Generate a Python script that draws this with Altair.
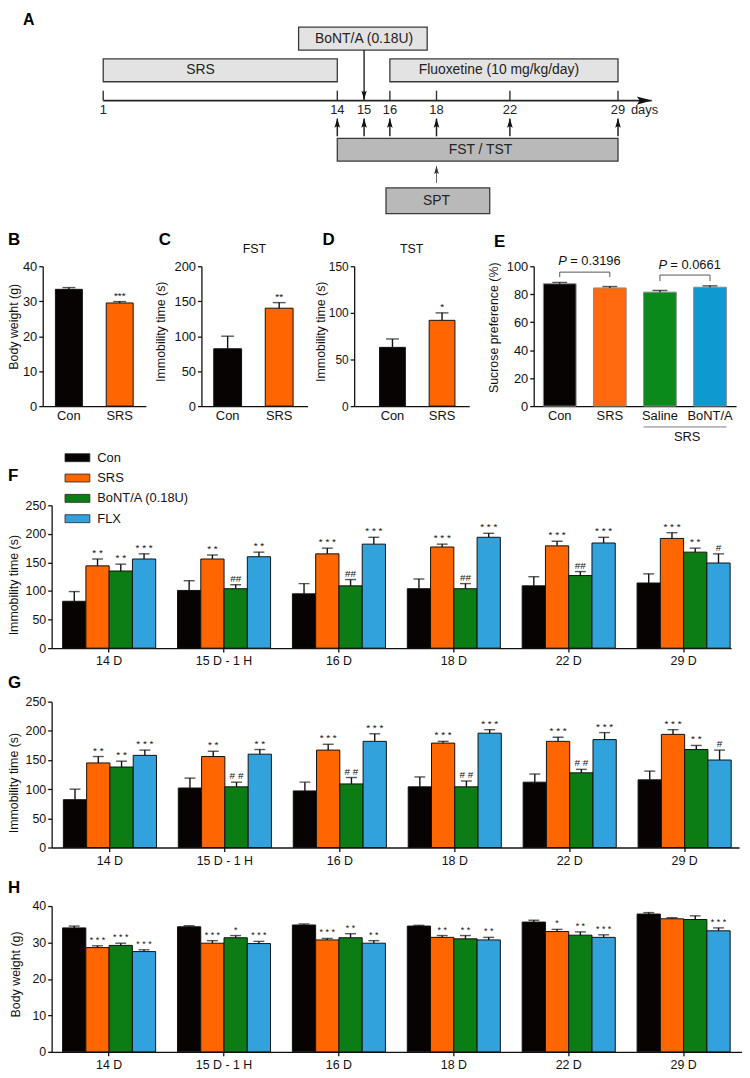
import altair as alt
import pandas as pd

FONT = "Liberation Sans"

# ---------------- data ----------------
# Panel A: experimental timeline (days)
timeline_days = [1, 14, 15, 16, 18, 22, 29]
test_days = [14, 15, 16, 18, 22, 29]
bont_day = [15]
spt_day = [18]
box_labels = ["BoNT/A (0.18U)", "SRS", "Fluoxetine (10 mg/kg/day)", "FST / TST", "SPT"]
box_start = [11.85, 1, 16, 14, 15.85]
box_end = [17.6, 14, 29, 29, 20.9]
box_text_day = [15, 6.4, 21.4, 20.4, 18]
box_lane = ["inject", "treat", "treat", "test", "spt"]

# Panel B: body weight
b_groups = ["Con", "SRS"]
b_mean = [33.4, 29.5]
b_sem = [0.5, 0.4]
b_sig = ["", "***"]
# Panel C: FST immobility
c_mean = [82, 140]
c_sem = [18, 8]
c_sig = ["", "**"]
# Panel D: TST immobility
d_mean = [63, 92]
d_sem = [9, 8]
d_sig = ["", "*"]
# Panel E: sucrose preference
e_groups = ["Con", "SRS", "Saline", "BoNT/A"]
e_mean = [87.5, 84.5, 81.5, 85.0]
e_sem = [1.0, 1.0, 1.2, 1.0]
e_pair_left = ["Con", "Saline"]
e_pair_right = ["SRS", "BoNT/A"]
e_p_text = ["= 0.3196", "= 0.0661"]
e_bracket_top = [95.8, 93.7]
e_bracket_leg = [92.3, 89.4]
e_p_y = [103.5, 100.7]

# Panels F, G, H
days = ["14 D", "15 D - 1 H", "16 D", "18 D", "22 D", "29 D"]
groups = ["Con", "SRS", "BoNT/A (0.18U)", "FLX"]

f_mean = [
    [82, 101, 95, 104, 109, 114],
    [144, 156, 165, 177, 179, 192],
    [135, 104, 109, 104, 127, 168],
    [156, 160, 182, 194, 184, 149],
]
f_sem = [
    [17, 17, 18, 17, 16, 16],
    [12, 7, 10, 5, 8, 10],
    [12, 7, 11, 9, 7, 7],
    [9, 8, 12, 7, 10, 16],
]
f_sig = [
    ["", "", "", "", "", ""],
    ["* *", "* *", "* * *", "* * *", "* * *", "* * *"],
    ["* *", "##", "##", "##", "##", "* *"],
    ["* * *", "* *", "* * *", "* * *", "* * *", "#"],
]

g_mean = [
    [82, 102, 97, 104, 112, 116],
    [145, 156, 167, 179, 182, 194],
    [138, 104, 109, 104, 128, 168],
    [158, 160, 182, 196, 185, 150],
]
g_sem = [
    [18, 17, 15, 17, 14, 15],
    [11, 9, 10, 3, 7, 8],
    [10, 8, 11, 10, 6, 7],
    [9, 8, 13, 6, 12, 17],
]
g_sig = [
    ["", "", "", "", "", ""],
    ["* *", "* *", "* * *", "* * *", "* * *", "* * *"],
    ["* *", "# #", "# #", "# #", "# #", "* *"],
    ["* * *", "* *", "* * *", "* * *", "* * *", "#"],
]

h_mean = [
    [34.0, 34.3, 34.8, 34.5, 35.6, 37.8],
    [28.6, 29.8, 30.7, 31.4, 33.0, 36.5],
    [29.2, 31.3, 31.3, 31.0, 32.0, 36.3],
    [27.5, 29.7, 29.8, 30.7, 31.4, 33.2],
]
h_sem = [
    [0.5, 0.3, 0.3, 0.2, 0.5, 0.4],
    [0.5, 0.7, 0.4, 0.5, 0.6, 0.3],
    [0.6, 0.6, 1.1, 0.9, 0.9, 1.0],
    [0.5, 0.6, 0.7, 0.7, 0.7, 0.8],
]
h_sig = [
    ["", "", "", "", "", ""],
    ["* * *", "* * *", "* * *", "* *", "*", ""],
    ["* * *", "*", "* *", "* *", "* *", ""],
    ["* * *", "* * *", "* *", "* *", "* * *", "* * *"],
]

# ---------------- styles / layout ----------------
GROUP_COLORS = ["#080303", "#ff6600", "#0b7d14", "#31a2dc"]
E_COLORS = ["#080303", "#ff6a10", "#0a8a1a", "#0e9ad0"]
INK = "#111111"

A_W, A_H = 700, 207
LANES = {"inject": (15, 38), "treat": (47, 70), "test": (127, 150), "spt": (177, 203)}
LANE_FILL = {"inject": "#e3e3e3", "treat": "#e3e3e3", "test": "#b9b9b9", "spt": "#b9b9b9"}
AXIS_Y, TICK_TOP, DAYLABEL_Y = 89, 79, 99
UP_TIP, UP_BOTTOM = 107, 125
BONT_FROM, BONT_TIP = 38, 88
SPT_TIP, SPT_BOTTOM = 155, 172
AXIS_END_DAY = 31.18

ARROW_RIGHT = "M0,0 L-2,-0.55 L-1.6,0 L-2,0.55 Z"
ARROW_UP = "M0,0 L0.6,2 L0,1.6 L-0.6,2 Z"
ARROW_DOWN = "M0,0 L0.6,-2 L0,-1.6 L-0.6,-2 Z"
RECT_PATH = "M-1.5,-0.48 H1.5 V0.48 H-1.5 Z"


def spacer(w, h):
    return alt.Chart(pd.DataFrame({"s": [0]})).mark_point(opacity=0).encode(
        x=alt.value(0), y=alt.value(0)
    ).properties(width=w, height=h)


def letter(t, x, y, size=17, baseline="alphabetic", weight="bold"):
    return alt.Chart(pd.DataFrame({"t": [t]})).mark_text(
        font=FONT, fontSize=size, fontWeight=weight, align="left", baseline=baseline, color="#000"
    ).encode(x=alt.value(x), y=alt.value(y), text="t:N")


# ---------------- Panel A ----------------
xa = alt.Scale(domain=timeline_days, range=[61, 297, 324, 350, 397, 471, 580])
ya = alt.Scale(domain=[0, A_H], reverse=True, zero=False, nice=False)


def XA(f):
    return alt.X(f, type="quantitative", scale=xa, axis=None)


def YA(f):
    return alt.Y(f, type="quantitative", scale=ya, axis=None)


boxes = pd.DataFrame({
    "label": box_labels, "start": box_start, "end": box_end, "tday": box_text_day,
    "top": [LANES[l][0] for l in box_lane], "bottom": [LANES[l][1] for l in box_lane],
    "fill": [LANE_FILL[l] for l in box_lane],
})
boxes["ymid"] = (boxes["top"] + boxes["bottom"]) / 2

a_rect = alt.Chart(boxes).mark_rect(stroke="#3a3a3a", strokeWidth=1.3).encode(
    x=XA("start"), x2="end:Q", y=YA("top"), y2="bottom:Q", fill=alt.Fill("fill:N", scale=None))
a_boxtext = alt.Chart(boxes).mark_text(font=FONT, fontSize=14, color="#222").encode(
    x=XA("tday"), y=YA("ymid"), text="label:N")

axis_df = pd.DataFrame({"a": [timeline_days[0]], "b": [AXIS_END_DAY], "y": [AXIS_Y]})
a_axis = alt.Chart(axis_df).mark_rule(strokeWidth=1.8, color="#222").encode(
    x=XA("a"), x2="b:Q", y=YA("y"))
a_head = alt.Chart(axis_df).mark_point(shape=ARROW_RIGHT, size=225, filled=True, opacity=1, color="#111").encode(
    x=XA("b"), y=YA("y"))

ticks_df = pd.DataFrame({"day": timeline_days, "y1": TICK_TOP, "y2": AXIS_Y, "yl": DAYLABEL_Y})
a_ticks = alt.Chart(ticks_df).mark_rule(strokeWidth=1.4, color="#333").encode(
    x=XA("day"), y=YA("y1"), y2="y2:Q")
a_daylab = alt.Chart(ticks_df).mark_text(font=FONT, fontSize=13, color="#222", baseline="middle").encode(
    x=XA("day"), y=YA("yl"), text="day:N")
a_days = alt.Chart(pd.DataFrame({"day": [timeline_days[-1]], "yl": [DAYLABEL_Y], "t": ["days"]})).mark_text(
    font=FONT, fontSize=13, color="#222", align="left", baseline="middle", dx=13).encode(
    x=XA("day"), y=YA("yl"), text="t:N")

bont_df = pd.DataFrame({"day": bont_day, "y1": BONT_FROM, "y2": BONT_TIP})
a_bont = alt.Chart(bont_df).mark_rule(strokeWidth=1.4, color="#222").encode(x=XA("day"), y=YA("y1"), y2="y2:Q")
a_bonthead = alt.Chart(bont_df).mark_point(shape=ARROW_DOWN, size=81, filled=True, opacity=1, color="#111").encode(
    x=XA("day"), y=YA("y2"))

up_df = pd.DataFrame({"day": test_days, "y1": UP_BOTTOM, "y2": UP_TIP})
a_up = alt.Chart(up_df).mark_rule(strokeWidth=1.5, color="#222").encode(x=XA("day"), y=YA("y1"), y2="y2:Q")
a_uphead = alt.Chart(up_df).mark_point(shape=ARROW_UP, size=90, filled=True, opacity=1, color="#111").encode(
    x=XA("day"), y=YA("y2"))

spt_df = pd.DataFrame({"day": spt_day, "y1": SPT_BOTTOM, "y2": SPT_TIP})
a_spt = alt.Chart(spt_df).mark_rule(strokeWidth=1, color="#666").encode(x=XA("day"), y=YA("y1"), y2="y2:Q")
a_spthead = alt.Chart(spt_df).mark_point(shape=ARROW_UP, size=64, filled=True, opacity=1, color="#333").encode(
    x=XA("day"), y=YA("y2"))

panel_a = alt.layer(
    a_rect, a_boxtext, a_axis, a_head, a_ticks, a_daylab, a_days,
    a_bont, a_bonthead, a_up, a_uphead, a_spt, a_spthead,
    letter("A", -20, 0, size=16, baseline="top"),
).properties(width=A_W, height=A_H)


# ---------------- Panels B-E ----------------
ROW_H = 141


def small_panel(cats, means, sems, sigs, colors, ymax, yticks, width, pi, po, align,
                ytitle, title_x, title_dy, let, let_x, let_y, stroke, stroke_w,
                star_size=10, cap=13, top_label=None, ylabel_size=13):
    df = pd.DataFrame({"cat": cats, "mean": means,
                       "top": [m + s for m, s in zip(means, sems)],
                       "sig": sigs, "fill": colors})
    xs = alt.Scale(domain=cats, paddingInner=pi, paddingOuter=po, align=align)
    ys = alt.Scale(domain=[0, ymax], nice=False, zero=True)
    xaxis = alt.Axis(title=None, labelAngle=0, ticks=False, labelFontSize=13, labelPadding=4)
    yaxis = alt.Axis(values=yticks, title=ytitle, titleX=title_x, titleY=ROW_H / 2 + title_dy,
                     titleAngle=270, titleAlign="center", titleBaseline="middle",
                     labelFontSize=ylabel_size, titleFontSize=12.5)

    def X():
        return alt.X("cat:N", scale=xs, sort=cats, axis=xaxis)

    def Y(f):
        return alt.Y(f, type="quantitative", scale=ys, axis=yaxis)

    base = alt.Chart(df)
    bars = base.mark_bar(stroke=stroke, strokeWidth=stroke_w).encode(
        x=X(), y=Y("mean"), fill=alt.Fill("fill:N", scale=None))
    err = base.mark_rule(color=INK, strokeWidth=1.4).encode(x=X(), y=Y("mean"), y2="top:Q")
    capm = base.mark_tick(orient="horizontal", size=cap, thickness=1.4, color=INK).encode(x=X(), y=Y("top"))
    stars = base.mark_text(font=FONT, fontSize=star_size, baseline="bottom", dy=-1, color="#111").encode(
        x=X(), y=Y("top"), text="sig:N")
    layers = [bars, err, capm, stars, letter(let, let_x, let_y)]
    if top_label:
        layers.append(alt.Chart(pd.DataFrame({"t": [top_label]})).mark_text(
            font=FONT, fontSize=12.5, baseline="middle", align="center", color="#111"
        ).encode(x=alt.value(width / 2), y=alt.value(-17), text="t:N"))
    return layers, xs, ys, xaxis, yaxis


b_layers, *_ = small_panel(b_groups, b_mean, b_sem, b_sig, GROUP_COLORS[:2], 40, [0, 10, 20, 30, 40],
                           104, 0.47, 0.25, 0.5, "Body weight (g)", -29, -10, "B", -35, -21, INK, 1)
panel_b = alt.layer(*b_layers).properties(width=104, height=ROW_H)

c_layers, *_ = small_panel(b_groups, c_mean, c_sem, c_sig, GROUP_COLORS[:2], 200, [0, 50, 100, 150, 200],
                           107, 0.46, 0.26, 0.46, "Immobility time (s)", -41, -5, "C", -43, -21, INK, 1,
                           top_label="FST")
panel_c = alt.layer(*c_layers).properties(width=107, height=ROW_H)

d_layers, *_ = small_panel(b_groups, d_mean, d_sem, d_sig, GROUP_COLORS[:2], 150, [0, 50, 100, 150],
                           116, 0.48, 0.4, 0.64, "Immobility time (s)", -34, -5, "D", -32, -21, INK, 1,
                           top_label="TST", ylabel_size=12)
panel_d = alt.layer(*d_layers).properties(width=116, height=ROW_H)

E_W = 204
e_layers, e_xs, e_ys, e_xaxis, e_yaxis = small_panel(
    e_groups, e_mean, e_sem, ["", "", "", ""], E_COLORS, 100, [0, 20, 40, 60, 80, 100],
    E_W, 0.347, 0.193, 0.5, "Sucrose preference (%)", -40, -9, "E", -40, -19, "#8a8a8a", 1, cap=15)

br = pd.DataFrame({"left": e_pair_left, "right": e_pair_right, "top": e_bracket_top,
                   "leg": e_bracket_leg, "ly": e_p_y, "p": e_p_text, "P": ["P", "P"]})
legs = pd.DataFrame({"cat": e_pair_left + e_pair_right,
                     "y1": e_bracket_leg + e_bracket_leg, "y2": e_bracket_top + e_bracket_top})


def EX(f, bp=0.5):
    return alt.X(f, type="nominal", scale=e_xs, sort=e_groups, axis=e_xaxis, bandPosition=bp)


def EY(f):
    return alt.Y(f, type="quantitative", scale=e_ys, axis=e_yaxis)


e_hline = alt.Chart(br).mark_rule(color="#555", strokeWidth=1).encode(
    x=EX("left"), x2=alt.X2("right:N", bandPosition=0.5), y=EY("top"))
e_legs = alt.Chart(legs).mark_rule(color="#555", strokeWidth=1).encode(
    x=EX("cat"), y=EY("y1"), y2="y2:Q")
e_ptxt1 = alt.Chart(br).mark_text(font=FONT, fontSize=13, fontStyle="italic", align="left",
                                  baseline="middle", dx=-18, color="#111").encode(
    x=EX("left", 1), y=EY("ly"), text="P:N")
e_ptxt2 = alt.Chart(br).mark_text(font=FONT, fontSize=13, align="left", baseline="middle",
                                  dx=-6, color="#111").encode(
    x=EX("left", 1), y=EY("ly"), text="p:N")
ul = pd.DataFrame({"a": ["Saline"], "b": ["BoNT/A"], "t": ["SRS"]})
e_ul = alt.Chart(ul).mark_rule(color="#777", strokeWidth=1).encode(
    x=EX("a", 0), x2=alt.X2("b:N", bandPosition=1), y=alt.value(ROW_H + 21))
e_ultxt = alt.Chart(ul).mark_text(font=FONT, fontSize=13, baseline="middle", dx=11, color="#111").encode(
    x=EX("a", 1), y=alt.value(ROW_H + 31), text="t:N")

panel_e = alt.layer(*e_layers, e_hline, e_legs, e_ptxt1, e_ptxt2, e_ul, e_ultxt).properties(
    width=E_W, height=ROW_H)


# ---------------- Panels F-H ----------------
def long_df(means, sems, sigs):
    rows = []
    for g, m, s, sg in zip(groups, means, sems, sigs):
        for d, mv, sv, sgv in zip(days, m, s, sg):
            rows.append({"day": d, "group": g, "mean": mv, "top": mv + sv, "sig": sgv})
    return pd.DataFrame(rows)


def group_panel(df, ymax, yticks, width, height, po, align, ytitle, title_x, title_dy,
                let, let_y, show_legend, star_size=10, cap=11):
    xs = alt.Scale(domain=days, paddingInner=0.19, paddingOuter=po, align=align)
    xo = alt.Scale(domain=groups, paddingInner=0, paddingOuter=0)
    ys = alt.Scale(domain=[0, ymax], nice=False, zero=True)
    xaxis = alt.Axis(title=None, labelAngle=0, tickSize=4, labelPadding=3, labelFontSize=12.5)
    yaxis = alt.Axis(values=yticks, title=ytitle, titleX=title_x, titleY=height / 2 + title_dy,
                     titleAngle=270, titleAlign="center", titleBaseline="middle",
                     labelFontSize=12.5, titleFontSize=12.5)
    if show_legend:
        leg = alt.Legend(title=None, orient="none", legendX=17, legendY=-57, symbolType=RECT_PATH,
                         symbolSize=278, symbolStrokeColor="#222", symbolStrokeWidth=0.8,
                         symbolOpacity=1, labelFontSize=13, labelFont=FONT, labelOffset=11,
                         rowPadding=4.5, padding=0, labelColor="#111")
    else:
        leg = None

    def X():
        return alt.X("day:N", scale=xs, sort=days, axis=xaxis)

    def XO():
        return alt.XOffset("group:N", scale=xo, sort=groups)

    def Y(f):
        return alt.Y(f, type="quantitative", scale=ys, axis=yaxis)

    base = alt.Chart(df)
    bars = base.mark_bar(stroke="#111", strokeWidth=1).encode(
        x=X(), xOffset=XO(), y=Y("mean"),
        fill=alt.Fill("group:N", sort=groups, scale=alt.Scale(domain=groups, range=GROUP_COLORS), legend=leg))
    err = base.mark_rule(color=INK, strokeWidth=1.4).encode(x=X(), xOffset=XO(), y=Y("mean"), y2="top:Q")
    capm = base.mark_tick(orient="horizontal", size=cap, thickness=1.4, color=INK).encode(
        x=X(), xOffset=XO(), y=Y("top"))
    stars = base.mark_text(font=FONT, fontSize=star_size, baseline="bottom", dy=-1, color="#111").encode(
        x=X(), xOffset=XO(), y=Y("top"), text="sig:N")
    return alt.layer(bars, err, capm, stars, letter(let, -44, let_y)).properties(width=width, height=height)


F_H, G_H, H_H = 144, 147, 147
panel_f = group_panel(long_df(f_mean, f_sem, f_sig), 250, [0, 50, 100, 150, 200, 250], 685, F_H,
                      0.052, 0.92, "Immobility time (s)", -38, 8, "F", -25, True)
panel_g = group_panel(long_df(g_mean, g_sem, g_sig), 250, [0, 50, 100, 150, 200, 250], 693, G_H,
                      0.085, 0.6, "Immobility time (s)", -38, 8, "G", -14, False)
panel_h = group_panel(long_df(h_mean, h_sem, h_sig), 40, [0, 10, 20, 30, 40], 696, H_H,
                      0.099, 0.48, "Body weight (g)", -36, -5, "H", -13, False, star_size=9)


def wrap(p):
    return alt.hconcat(spacer(9, 1), p, spacing=0, bounds="flush").resolve_scale(
        fill="independent", xOffset="independent").resolve_legend(fill="independent")


row = alt.hconcat(panel_b, spacer(56, 1), panel_c, spacer(47, 1), panel_d, spacer(65, 1), panel_e,
                  spacing=0, bounds="flush")

# nested concats count as zero height in a flush column, so the gaps below them
# include their own plot heights
chart = alt.vconcat(
    panel_a, spacer(1, 49), row, spacer(1, ROW_H + 100), wrap(panel_f), spacer(1, F_H + 54),
    wrap(panel_g), spacer(1, G_H + 59), wrap(panel_h),
    spacing=0, bounds="flush",
).resolve_scale(fill="independent", xOffset="independent").resolve_legend(
    fill="independent"
).properties(padding=0, background="white").configure(font=FONT).configure_view(
    strokeWidth=0
).configure_axis(
    grid=False, domainColor=INK, domainWidth=1.3, tickColor=INK, tickWidth=1.3,
    labelColor="#111", titleColor="#111", labelFont=FONT, titleFont=FONT,
    titleFontWeight="normal", tickSize=4, labelPadding=2
)

chart.save("out.html", embed_options={"renderer": "svg", "actions": False})
